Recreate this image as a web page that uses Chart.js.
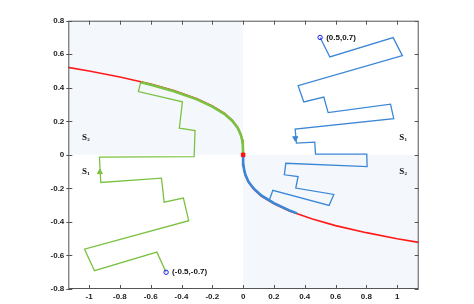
<!DOCTYPE html>
<html>
<head>
<meta charset="utf-8">
<script src="https://cdn.jsdelivr.net/npm/chart.js@4/dist/chart.umd.min.js"></script>
<style>
  body { margin: 0; background: #fff; }
  #wrap { width: 474px; height: 304px; }
</style>
</head>
<body>
<div id="wrap"><canvas id="phase-chart" width="474" height="304"></canvas></div>
<script>
// switching curve (red)
const curveX = [-1.14, -1.0, -0.8, -0.6, -0.45, -0.3, -0.2, -0.12, -0.07, -0.035, -0.015, -0.006, -0.002, -0.0004, 0,
                0.0004, 0.002, 0.006, 0.015, 0.035, 0.07, 0.12, 0.2, 0.3, 0.45, 0.6, 0.8, 1.0, 1.14];
const curveY = [0.522, 0.5, 0.464, 0.422, 0.383, 0.335, 0.292, 0.247, 0.206, 0.164, 0.123, 0.091, 0.063, 0.037, 0,
                -0.037, -0.063, -0.091, -0.123, -0.164, -0.206, -0.247, -0.292, -0.335, -0.383, -0.422, -0.464, -0.5, -0.522];

// trajectory starting at (-0.5,-0.7)
const greenX = [-0.5, -0.56, -0.965, -1.03, -0.353, -0.388, -0.513, -0.53, -0.924, -0.933, -0.318, -0.312, -0.414, -0.394, -0.68, -0.664];
const greenY = [-0.7, -0.58, -0.691, -0.562, -0.393, -0.258, -0.282, -0.139, -0.165, -0.014, -0.01, 0.145, 0.159, 0.316, 0.377, 0.437];
const greenSlideX = [-0.664, -0.6, -0.45, -0.3, -0.2, -0.12, -0.07, -0.035, -0.015, -0.006, -0.002, 0];
const greenSlideY = [0.433, 0.418, 0.379, 0.331, 0.288, 0.243, 0.202, 0.16, 0.119, 0.087, 0.06, 0];

// trajectory starting at (0.5,0.7)
const blueX = [0.5, 0.563, 0.974, 1.034, 0.357, 0.394, 0.524, 0.552, 0.957, 0.978, 0.338, 0.346, 0.465, 0.47, 0.803, 0.805,
               0.277, 0.268, 0.357, 0.342, 0.589, 0.558, 0.193, 0.171];
const blueY = [0.7, 0.584, 0.699, 0.592, 0.413, 0.316, 0.345, 0.252, 0.302, 0.216, 0.153, 0.07, 0.076, 0.004, 0.004, -0.07,
               -0.05, -0.119, -0.129, -0.198, -0.236, -0.302, -0.212, -0.268];
const blueSlideX = [0.35, 0.3, 0.2, 0.12, 0.07, 0.035, 0.015, 0.006, 0.002, 0];
const blueSlideY = [-0.349, -0.331, -0.288, -0.243, -0.202, -0.16, -0.119, -0.087, -0.06, 0];

const startPoints = [[-0.5, -0.7], [0.5, 0.7]];
const startLabels = ["(-0.5,-0.7)", "(0.5,0.7)"];
const arrowPoints = [[-0.93, -0.103], [0.339, 0.099]];
const arrowRotation = [0, 180];

const regionLabels = [
  { x: -1.02, y: 0.1, sub: "2" }, { x: -1.02, y: -0.1, sub: "1" },
  { x: 1.04, y: 0.1, sub: "1" }, { x: 1.04, y: -0.1, sub: "2" }
];

const xTicks = [-1, -0.8, -0.6, -0.4, -0.2, 0, 0.2, 0.4, 0.6, 0.8, 1];
const yTicks = [-0.8, -0.6, -0.4, -0.2, 0, 0.2, 0.4, 0.6, 0.8];

function toPoints(xs, ys) {
  return xs.map((x, i) => ({ x: x, y: ys[i] }));
}

function tickText(v) {
  return v === 0 ? "0" : String(parseFloat(v.toFixed(1)));
}

const fontFamily = "'Liberation Sans', Arial, sans-serif";

const framePlugin = {
  id: "frame",
  beforeDatasetsDraw(chart) {
    const { ctx, chartArea: a, scales: { x, y } } = chart;
    const x0 = x.getPixelForValue(0), y0 = y.getPixelForValue(0);
    ctx.save();
    ctx.fillStyle = "#f4f8fd";
    ctx.fillRect(a.left, a.top, x0 - a.left, y0 - a.top);
    ctx.fillRect(x0, y0, a.right - x0, a.bottom - y0);
    ctx.restore();
  },
  afterDraw(chart) {
    const { ctx, chartArea: a, scales: { x, y } } = chart;
    ctx.save();
    ctx.strokeStyle = "#555";
    ctx.lineWidth = 1;
    ctx.strokeRect(a.left + 0.5, a.top + 0.5, a.right - a.left - 1, a.bottom - a.top - 1);
    ctx.beginPath();
    xTicks.forEach(v => {
      const px = Math.round(x.getPixelForValue(v)) + 0.5;
      ctx.moveTo(px, a.bottom); ctx.lineTo(px, a.bottom - 4);
      ctx.moveTo(px, a.top); ctx.lineTo(px, a.top + 4);
    });
    yTicks.forEach(v => {
      const py = Math.round(y.getPixelForValue(v)) + 0.5;
      ctx.moveTo(a.left - 2, py); ctx.lineTo(a.left + 4, py);
      ctx.moveTo(a.right, py); ctx.lineTo(a.right - 4, py);
    });
    ctx.stroke();

    // start labels
    ctx.fillStyle = "#111";
    ctx.font = "bold 8px " + fontFamily;
    ctx.textBaseline = "middle";
    startPoints.forEach((p, i) => {
      ctx.fillText(startLabels[i], x.getPixelForValue(p[0]) + 6, y.getPixelForValue(p[1]));
    });

    // region names S1 / S2
    regionLabels.forEach(r => {
      const px = x.getPixelForValue(r.x), py = y.getPixelForValue(r.y);
      ctx.font = "bold 9px 'Liberation Serif', serif";
      ctx.textBaseline = "middle";
      ctx.fillText("S", px - 4, py);
      ctx.font = "bold 5px 'Liberation Serif', serif";
      ctx.fillText(r.sub, px + 1.3, py + 2);
    });
    ctx.restore();
  }
};

document.addEventListener("DOMContentLoaded", function() {
  const ctx = document.getElementById("phase-chart").getContext("2d");

  const lineSet = (data, color, width, order) => ({
    data: data,
    showLine: true,
    borderColor: color,
    borderWidth: width,
    pointRadius: 0,
    fill: false,
    order: order
  });

  new Chart(ctx, {
    type: "scatter",
    data: {
      datasets: [
        {
          data: [{ x: 0, y: 0 }],
          pointStyle: "rect",
          pointRadius: 2.5,
          backgroundColor: "#ff1010",
          borderColor: "#ff1010",
          order: 0
        },
        {
          data: toPoints(startPoints.map(p => p[0]), startPoints.map(p => p[1])),
          pointRadius: 2.2,
          borderWidth: 1,
          borderColor: "#1a1aff",
          backgroundColor: "rgba(255,255,255,0)",
          order: 1
        },
        {
          data: toPoints(arrowPoints.map(p => p[0]), arrowPoints.map(p => p[1])),
          pointStyle: "triangle",
          pointRadius: 3,
          rotation: arrowRotation,
          backgroundColor: ["#7cc242", "#3b86d6"],
          borderColor: ["#7cc242", "#3b86d6"],
          borderWidth: 1,
          order: 2
        },
        lineSet(toPoints(greenSlideX, greenSlideY), "#7cc242", 2.6, 3),
        lineSet(toPoints(blueSlideX, blueSlideY), "#3b86d6", 2.6, 3),
        lineSet(toPoints(curveX, curveY), "#ff1a1a", 1.6, 4),
        lineSet(toPoints(greenX, greenY), "#7cc242", 1.3, 5),
        lineSet(toPoints(blueX, blueY), "#3b86d6", 1.3, 5)
      ]
    },
    options: {
      responsive: false,
      animation: false,
      layout: { padding: { top: 20.7, right: 55.3, bottom: 0, left: 0 } },
      plugins: { legend: { display: false }, tooltip: { enabled: false } },
      scales: {
        x: {
          type: "linear",
          min: -1.135,
          max: 1.14,
          grid: { display: false, drawTicks: false },
          border: { display: false },
          ticks: { color: "#222", padding: 3, font: { size: 8, weight: "bold", family: fontFamily }, callback: v => tickText(v) },
          afterBuildTicks: s => { s.ticks = xTicks.map(v => ({ value: v })); },
          afterFit: s => { s.height = 15; }
        },
        y: {
          type: "linear",
          min: -0.8,
          max: 0.8,
          grid: { display: false, drawTicks: false },
          border: { display: false },
          ticks: { color: "#222", padding: 4, font: { size: 8, weight: "bold", family: fontFamily }, callback: v => tickText(v) },
          afterBuildTicks: s => { s.ticks = yTicks.map(v => ({ value: v })); },
          afterFit: s => { s.width = 68.3; }
        }
      }
    },
    plugins: [framePlugin]
  });
});
</script>
</body>
</html>
